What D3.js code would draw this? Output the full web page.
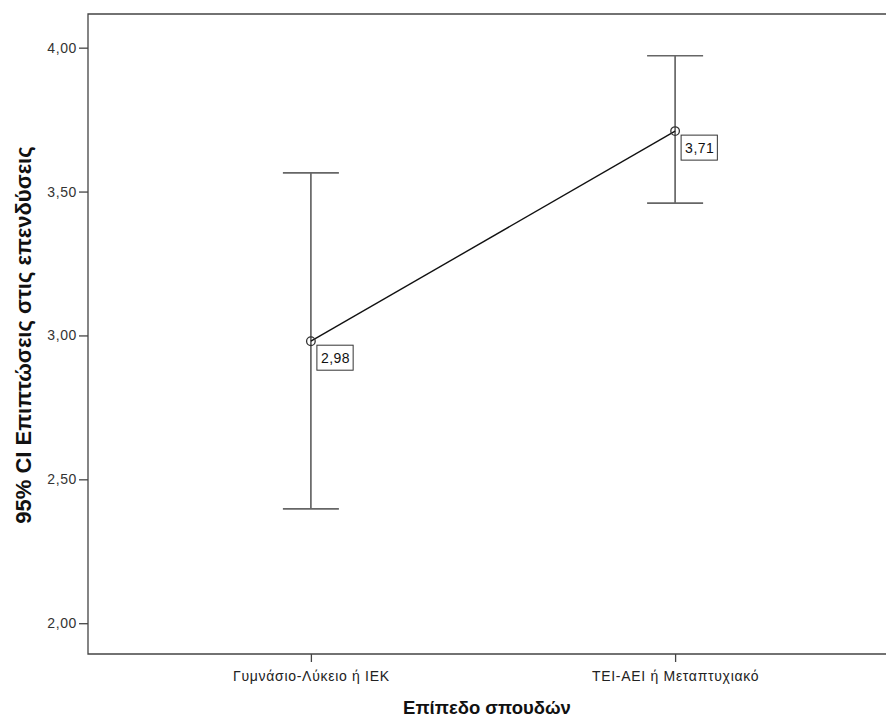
<!DOCTYPE html>
<html><head><meta charset="utf-8">
<script src="https://cdn.jsdelivr.net/npm/d3@7"></script>
<style>body{margin:0;background:#fff}svg{display:block;font-family:"Liberation Sans",Arial,sans-serif}</style>
</head><body>
<svg id="c" width="886" height="718"></svg>
<script>
const categories = ["Γυμνάσιο-Λύκειο ή ΙΕΚ", "ΤΕΙ-ΑΕΙ ή Μεταπτυχιακό"];
const means = [2.98, 3.71];
const lower = [2.397, 3.46];
const upper = [3.565, 3.972];
const meanLabels = ["2,98", "3,71"];
const yTicks = [2.0, 2.5, 3.0, 3.5, 4.0];
const yTickLabels = ["2,00", "2,50", "3,00", "3,50", "4,00"];
const xTitle = "Επίπεδο σπουδών";
const yTitle = "95% CI Επιπτώσεις στις επενδύσεις";

const svg = d3.select("#c");
const L = 88, T = 14, R = 898, B = 654;
const y = d3.scaleLinear().domain([1.893, 4.117]).range([B, T]);
const x = d3.scalePoint().domain(categories).range([L, R]).padding(0.612);

// frame
svg.append("path").attr("d", `M${R},${T}H${L}V${B}H${R}`)
  .attr("fill","none").attr("stroke","#444").attr("stroke-width",1.3);

// y axis
const ya = svg.append("g").attr("transform",`translate(${L},0)`)
  .call(d3.axisLeft(y).tickValues(yTicks).tickSize(9).tickPadding(2).tickFormat((d,i)=>yTickLabels[i]));
ya.select(".domain").remove();
ya.selectAll("line").attr("stroke","#444").attr("stroke-width",1.3);
ya.selectAll("text").attr("font-size",14).attr("letter-spacing","0.6px").attr("fill","#333").attr("font-family","Liberation Sans, Arial, sans-serif");

// x axis
const xa = svg.append("g").attr("transform",`translate(0,${B})`)
  .call(d3.axisBottom(x).tickSize(8));
xa.select(".domain").remove();
xa.selectAll("line").attr("stroke","#444").attr("stroke-width",1.3);
xa.selectAll("text").attr("font-size",14).attr("letter-spacing","0.7px").attr("fill","#222")
  .attr("font-family","Liberation Sans, Arial, sans-serif").attr("y",27).attr("dy",0);

// titles
svg.append("text").attr("x",(L+886)/2).attr("y",714).attr("text-anchor","middle")
  .attr("font-size",18.5).attr("font-weight","bold").attr("fill","#111").text(xTitle);
svg.append("text").attr("transform",`translate(31,${(T+B)/2+1}) rotate(-90)`).attr("text-anchor","middle")
  .attr("font-size",22).attr("font-weight","bold").attr("fill","#111").text(yTitle);

// error bars
const capW = 28;
categories.forEach((c,i)=>{
  const cx = x(c);
  const g = svg.append("g").attr("stroke","#666").attr("stroke-width",1.7).attr("fill","none");
  g.append("line").attr("x1",cx).attr("x2",cx).attr("y1",y(lower[i])).attr("y2",y(upper[i]));
  g.append("line").attr("x1",cx-capW).attr("x2",cx+capW).attr("y1",y(upper[i])).attr("y2",y(upper[i]));
  g.append("line").attr("x1",cx-capW).attr("x2",cx+capW).attr("y1",y(lower[i])).attr("y2",y(lower[i]));
});

// mean line
svg.append("path").datum(categories)
  .attr("d", d3.line().x(c=>x(c)).y((c,i)=>y(means[i])))
  .attr("fill","none").attr("stroke","#111").attr("stroke-width",1.4);

// markers
svg.selectAll("circle.m").data(categories).join("circle").attr("class","m")
  .attr("cx",c=>x(c)).attr("cy",(c,i)=>y(means[i])).attr("r",4.3)
  .attr("fill","none").attr("stroke","#333").attr("stroke-width",1.3);

// labels
categories.forEach((c,i)=>{
  const bx = x(c)+6, by = y(means[i])+4;
  const g = svg.append("g").attr("transform",`translate(${bx},${by})`);
  const t = g.append("text").attr("x",4).attr("y",18).attr("font-size",14).attr("letter-spacing","0.5px").attr("fill","#111").text(meanLabels[i]);
  const w = t.node().getComputedTextLength();
  g.insert("rect","text").attr("x",0).attr("y",0).attr("width",w+7).attr("height",25)
    .attr("fill","#fff").attr("stroke","#333").attr("stroke-width",1);
});
</script>
</body></html>
